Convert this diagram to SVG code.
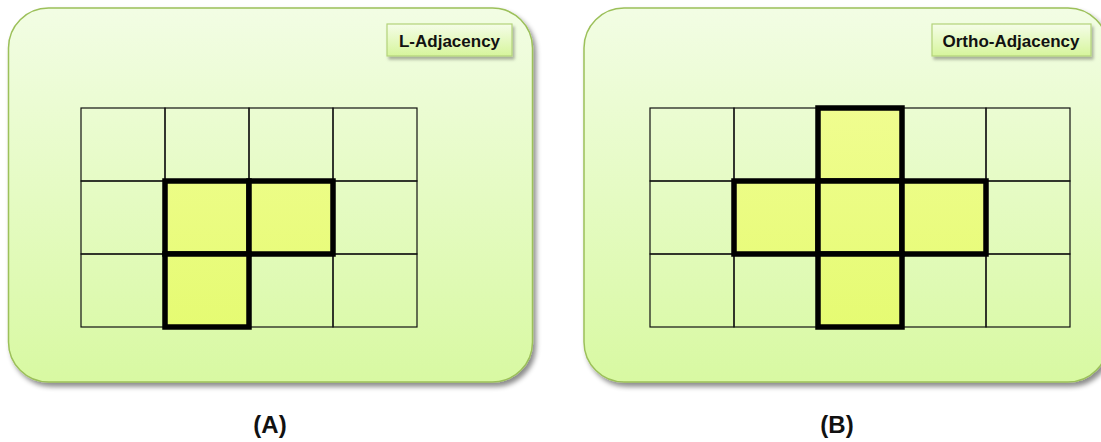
<svg xmlns="http://www.w3.org/2000/svg" width="1101" height="442" viewBox="0 0 1101 442">
<defs>
<linearGradient id="panelGrad" x1="0" y1="0" x2="0" y2="1">
<stop offset="0" stop-color="#f2fde4"/>
<stop offset="1" stop-color="#d8f9a2"/>
</linearGradient>
<linearGradient id="labelGrad" x1="0" y1="0" x2="0" y2="1">
<stop offset="0" stop-color="#f5fde8"/>
<stop offset="1" stop-color="#d6f59c"/>
</linearGradient>
<linearGradient id="hiGrad" gradientUnits="userSpaceOnUse" x1="0" y1="105" x2="0" y2="330">
<stop offset="0" stop-color="#f0fd90"/>
<stop offset="1" stop-color="#e5fb72"/>
</linearGradient>
<filter id="shadow" x="-5%" y="-5%" width="112%" height="115%">
<feDropShadow dx="3" dy="4" stdDeviation="2.5" flood-color="#000" flood-opacity="0.45"/>
</filter>
<filter id="shadowSm" x="-10%" y="-20%" width="125%" height="160%">
<feDropShadow dx="2" dy="3" stdDeviation="1.5" flood-color="#000" flood-opacity="0.3"/>
</filter>
</defs>
<style>
.panel{fill:url(#panelGrad);stroke:#9cc05a;stroke-width:1.5}
.label{fill:url(#labelGrad);stroke:#b3d27a;stroke-width:1.2}
.cell{fill:none;stroke:#111;stroke-width:1.2}
.hi{fill:url(#hiGrad);stroke:#000;stroke-width:5.5}
.ltxt{font-family:"Liberation Sans",Arial,sans-serif;font-weight:bold;font-size:17px;fill:#111;text-anchor:middle}
.cap{font-family:"Liberation Sans",Arial,sans-serif;font-weight:bold;font-size:24px;fill:#111;text-anchor:middle}
</style>
<g id="panelA">
<rect class="panel" x="8.5" y="8" width="524" height="374" rx="40" ry="40" filter="url(#shadow)"/>
<rect class="label" x="387" y="24" width="125" height="32" filter="url(#shadowSm)"/>
<text class="ltxt" x="449.5" y="46.5">L-Adjacency</text>
<g id="gridA">
<rect class="cell" x="81" y="108" width="84" height="73"/>
<rect class="cell" x="165" y="108" width="84" height="73"/>
<rect class="cell" x="249" y="108" width="84" height="73"/>
<rect class="cell" x="333" y="108" width="84" height="73"/>
<rect class="cell" x="81" y="181" width="84" height="73"/>
<rect class="cell" x="333" y="181" width="84" height="73"/>
<rect class="cell" x="81" y="254" width="84" height="73"/>
<rect class="cell" x="249" y="254" width="84" height="73"/>
<rect class="cell" x="333" y="254" width="84" height="73"/>
<rect class="hi" x="165" y="181" width="84" height="73"/>
<rect class="hi" x="249" y="181" width="84" height="73"/>
<rect class="hi" x="165" y="254" width="84" height="73"/>
</g>
<text class="cap" x="270" y="433">(A)</text>
</g>
<g id="panelB">
<rect class="panel" x="584" y="8" width="524" height="374" rx="40" ry="40" filter="url(#shadow)"/>
<rect class="label" x="932" y="24" width="159" height="32" filter="url(#shadowSm)"/>
<text class="ltxt" x="1011" y="46.5">Ortho-Adjacency</text>
<g id="gridB">
<rect class="cell" x="650" y="108" width="84" height="73"/>
<rect class="cell" x="734" y="108" width="84" height="73"/>
<rect class="cell" x="902" y="108" width="84" height="73"/>
<rect class="cell" x="986" y="108" width="84" height="73"/>
<rect class="cell" x="650" y="181" width="84" height="73"/>
<rect class="cell" x="986" y="181" width="84" height="73"/>
<rect class="cell" x="650" y="254" width="84" height="73"/>
<rect class="cell" x="734" y="254" width="84" height="73"/>
<rect class="cell" x="902" y="254" width="84" height="73"/>
<rect class="cell" x="986" y="254" width="84" height="73"/>
<rect class="hi" x="818" y="108" width="84" height="73"/>
<rect class="hi" x="734" y="181" width="84" height="73"/>
<rect class="hi" x="818" y="181" width="84" height="73"/>
<rect class="hi" x="902" y="181" width="84" height="73"/>
<rect class="hi" x="818" y="254" width="84" height="73"/>
</g>
<text class="cap" x="837" y="433">(B)</text>
</g>
</svg>
